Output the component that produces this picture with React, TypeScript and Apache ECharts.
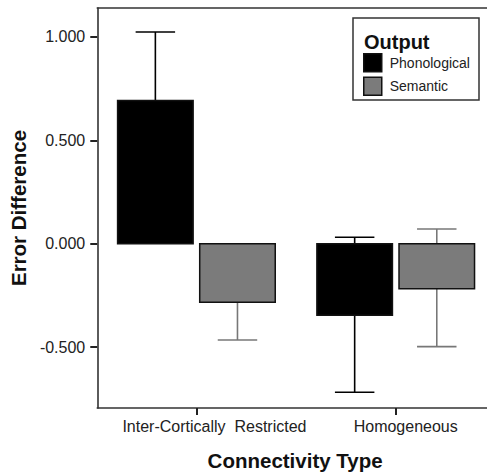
import React, { useEffect, useRef } from "react";
import * as echarts from "echarts";

const categories = ["Inter-Cortically  Restricted", "Homogeneous"];
const seriesNames = ["Phonological", "Semantic"];
const phonoMean = [0.692, -0.346];
const phonoLow = [0.36, -0.719];
const phonoHigh = [1.024, 0.031];
const semMean = [-0.283, -0.218];
const semLow = [-0.466, -0.498];
const semHigh = [-0.1, 0.071];
const yTicks = [-0.5, 0, 0.5, 1.0];

const FONT = "'Liberation Sans', Arial, Helvetica, sans-serif";
const BAR_W = 0.379;
const BAR_OFF = 0.206;
const CAP_W = 0.198;

function makeRender(offset: number, errColor: string) {
  return (params: any, api: any) => {
    const cx = api.value(0) + offset;
    const mean = api.value(1);
    const low = api.value(2);
    const high = api.value(3);
    const p0 = api.coord([cx - BAR_W / 2, 0]);
    const p1 = api.coord([cx + BAR_W / 2, mean]);
    const top = api.coord([cx, high]);
    const bot = api.coord([cx, low]);
    const capL = api.coord([cx - CAP_W / 2, high]);
    const capR = api.coord([cx + CAP_W / 2, high]);
    const capL2 = api.coord([cx - CAP_W / 2, low]);
    const capR2 = api.coord([cx + CAP_W / 2, low]);
    const lineStyle = { stroke: errColor, lineWidth: 1.6 };
    const color = api.visual("color");
    return {
      type: "group",
      children: [
        { type: "line", shape: { x1: top[0], y1: top[1], x2: bot[0], y2: bot[1] }, style: lineStyle },
        { type: "line", shape: { x1: capL[0], y1: capL[1], x2: capR[0], y2: capR[1] }, style: lineStyle },
        { type: "line", shape: { x1: capL2[0], y1: capL2[1], x2: capR2[0], y2: capR2[1] }, style: lineStyle },
        {
          type: "rect",
          shape: {
            x: p0[0],
            y: Math.min(p0[1], p1[1]),
            width: p1[0] - p0[0],
            height: Math.abs(p1[1] - p0[1]),
          },
          style: { fill: color, stroke: "#111", lineWidth: 1.5 },
        },
      ],
    };
  };
}

export default function App() {
  const ref = useRef<HTMLDivElement>(null);
  useEffect(() => {
    if (!ref.current) return;
    const chart = echarts.init(ref.current, null, { renderer: "svg" });
    const phonoData = categories.map((_, i) => [i, phonoMean[i], phonoLow[i], phonoHigh[i]]);
    const semData = categories.map((_, i) => [i, semMean[i], semLow[i], semHigh[i]]);
    const xMin = -0.4975;
    const xMax = 1.458;
    chart.setOption({
      animation: false,
      backgroundColor: "#fff",
      grid: { left: 92, top: 8, right: 0, bottom: 66 },
      xAxis: [
        {
          type: "value",
          min: xMin,
          max: xMax,
          splitLine: { show: false },
          axisLine: { show: true, onZero: false, lineStyle: { color: "#333", width: 1.6 } },
          axisTick: { show: true, length: 7, lineStyle: { color: "#222", width: 2 }, customValues: [0, 1] },
          axisLabel: {
            customValues: [0, 1],
            margin: 10,
            formatter: (v: number) => {
              const i = Math.round(v);
              return i === 0 ? "{a|" + categories[0] + "}" : "{b|" + categories[1] + "}";
            },
            rich: {
              a: { fontSize: 16, fontFamily: FONT, color: "#222", padding: [0, 0, 0, 36] },
              b: { fontSize: 16, fontFamily: FONT, color: "#222", padding: [0, 0, 0, 20] },
            },
          },
          name: "Connectivity Type",
          nameLocation: "middle",
          nameGap: 42,
          nameTextStyle: { fontSize: 20.5, fontWeight: "bold", fontFamily: FONT, color: "#111", padding: [0, 0, 0, 6] },
        },
        {
          type: "value",
          position: "top",
          min: xMin,
          max: xMax,
          splitLine: { show: false },
          axisLine: { show: true, onZero: false, lineStyle: { color: "#333", width: 1.6 } },
          axisTick: { show: false },
          axisLabel: { show: false },
        },
      ],
      yAxis: {
        type: "value",
        min: -0.795,
        max: 1.14,
        splitLine: { show: false },
        axisLine: { show: true, onZero: false, lineStyle: { color: "#333", width: 1.6 } },
        axisTick: { show: true, length: 7, lineStyle: { color: "#222", width: 2 }, customValues: yTicks },
        axisLabel: {
          customValues: yTicks,
          margin: 12,
          fontSize: 16,
          fontFamily: FONT,
          color: "#222",
          formatter: (v: number) => v.toFixed(3),
        },
        name: "Error Difference",
        nameLocation: "middle",
        nameGap: 60,
        nameTextStyle: { fontSize: 20.5, fontWeight: "bold", fontFamily: FONT, color: "#111" },
      },
      graphic: [
        {
          type: "rect",
          z: 1,
          shape: { x: 353, y: 18, width: 126, height: 82 },
          style: { fill: "#fff", stroke: "#333", lineWidth: 1.5 },
        },
        {
          type: "text",
          z: 2,
          style: {
            text: "Output",
            x: 364,
            y: 42,
            verticalAlign: "middle",
            font: "bold 20px " + FONT,
            fill: "#111",
          },
        },
      ],
      legend: {
        z: 5,
        left: 363,
        top: 53,
        orient: "vertical",
        padding: 0,
        itemWidth: 18,
        itemHeight: 18,
        itemGap: 4,
        icon: "rect",
        itemStyle: { borderColor: "#111", borderWidth: 1.5 },
        textStyle: { fontSize: 14, fontFamily: FONT, color: "#222", padding: [0, 0, 0, 3] },
        data: seriesNames,
      },
      series: [
        {
          type: "custom",
          name: seriesNames[0],
          renderItem: makeRender(-BAR_OFF, "#000"),
          itemStyle: { color: "#000" },
          encode: { x: 0, y: 1 },
          data: phonoData,
          z: 3,
        },
        {
          type: "custom",
          name: seriesNames[1],
          renderItem: makeRender(BAR_OFF, "#777"),
          itemStyle: { color: "#7b7b7b" },
          encode: { x: 0, y: 1 },
          data: semData,
          z: 3,
        },
      ],
    });
    return () => chart.dispose();
  }, []);
  return (
    <div
      ref={ref}
      style={{ position: "fixed", left: 0, top: 0, width: 487, height: 476, background: "#fff" }}
    />
  );
}
